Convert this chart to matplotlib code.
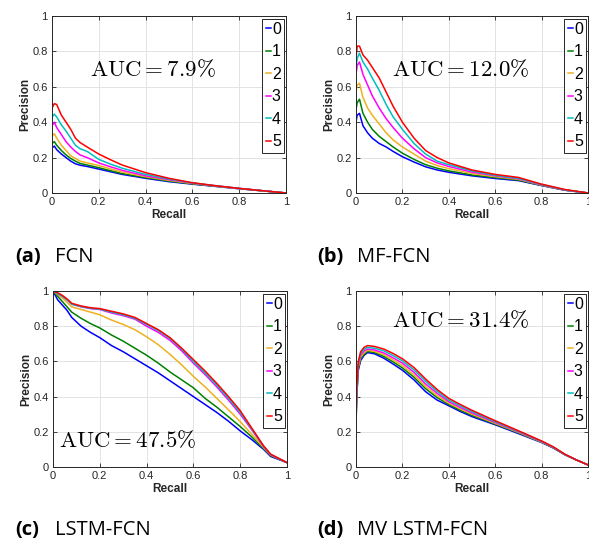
import numpy as np
import matplotlib
matplotlib.use("Agg")
import matplotlib.pyplot as plt

plt.rcParams['mathtext.fontset'] = 'cm'
plt.rcParams['font.family'] = ['Liberation Sans', 'DejaVu Sans']

# ---- data ----
labels = ['0', '1', '2', '3', '4', '5']
colors = ['#0000ff', '#008000', '#edb120', '#ff00ff', '#00bfbf', '#ff0000']

# (a) FCN
fcn_x = [0, 0.01, 0.02, 0.04, 0.06, 0.08, 0.10, 0.12, 0.15, 0.20, 0.25, 0.30, 0.40, 0.50, 0.60, 0.70, 0.80, 0.90, 1.0]
fcn_0 = [0.255, 0.265, 0.245, 0.22, 0.20, 0.18, 0.165, 0.157, 0.15, 0.135, 0.12, 0.105, 0.083, 0.064, 0.05, 0.037, 0.024, 0.012, 0]
fcn_1 = [0.28, 0.29, 0.27, 0.24, 0.215, 0.195, 0.18, 0.167, 0.158, 0.143, 0.126, 0.11, 0.087, 0.067, 0.052, 0.038, 0.025, 0.012, 0]
fcn_2 = [0.32, 0.335, 0.31, 0.27, 0.24, 0.21, 0.195, 0.18, 0.17, 0.155, 0.136, 0.118, 0.092, 0.071, 0.054, 0.039, 0.025, 0.012, 0]
fcn_3 = [0.38, 0.40, 0.37, 0.33, 0.29, 0.26, 0.235, 0.215, 0.20, 0.17, 0.148, 0.128, 0.097, 0.075, 0.056, 0.04, 0.026, 0.013, 0]
fcn_4 = [0.43, 0.445, 0.43, 0.385, 0.35, 0.31, 0.27, 0.25, 0.235, 0.19, 0.163, 0.14, 0.105, 0.079, 0.057, 0.041, 0.026, 0.013, 0]
fcn_5 = [0.48, 0.505, 0.50, 0.44, 0.40, 0.36, 0.31, 0.285, 0.26, 0.22, 0.188, 0.158, 0.115, 0.083, 0.058, 0.041, 0.026, 0.013, 0]

# (b) MF-FCN
mf_x = [0, 0.005, 0.015, 0.03, 0.05, 0.07, 0.10, 0.13, 0.16, 0.20, 0.25, 0.30, 0.35, 0.40, 0.50, 0.60, 0.70, 0.80, 0.90, 1.0]
mf_0 = [0.40, 0.44, 0.45, 0.38, 0.34, 0.31, 0.28, 0.26, 0.235, 0.205, 0.175, 0.148, 0.13, 0.117, 0.097, 0.082, 0.07, 0.042, 0.016, 0]
mf_1 = [0.47, 0.51, 0.53, 0.45, 0.40, 0.36, 0.32, 0.29, 0.26, 0.225, 0.19, 0.16, 0.14, 0.125, 0.102, 0.087, 0.073, 0.043, 0.016, 0]
mf_2 = [0.57, 0.61, 0.62, 0.54, 0.48, 0.44, 0.39, 0.34, 0.30, 0.26, 0.22, 0.18, 0.155, 0.138, 0.11, 0.092, 0.077, 0.045, 0.017, 0]
mf_3 = [0.67, 0.72, 0.74, 0.67, 0.61, 0.55, 0.48, 0.42, 0.37, 0.31, 0.25, 0.20, 0.17, 0.15, 0.118, 0.097, 0.08, 0.046, 0.017, 0]
mf_4 = [0.70, 0.76, 0.79, 0.74, 0.70, 0.65, 0.58, 0.50, 0.43, 0.36, 0.28, 0.22, 0.18, 0.16, 0.125, 0.10, 0.083, 0.048, 0.018, 0]
mf_5 = [0.76, 0.83, 0.83, 0.78, 0.75, 0.71, 0.65, 0.57, 0.49, 0.40, 0.31, 0.24, 0.20, 0.17, 0.13, 0.105, 0.088, 0.05, 0.02, 0]

# (c) LSTM-FCN
lstm_x = [0, 0.02, 0.04, 0.06, 0.08, 0.12, 0.16, 0.20, 0.25, 0.30, 0.35, 0.40, 0.45, 0.50, 0.55, 0.60, 0.65, 0.70, 0.75, 0.80, 0.85, 0.90, 0.93, 1.0]
lstm_0 = [1.0, 0.95, 0.92, 0.89, 0.85, 0.80, 0.765, 0.735, 0.69, 0.655, 0.615, 0.575, 0.535, 0.49, 0.445, 0.40, 0.355, 0.31, 0.26, 0.205, 0.155, 0.10, 0.06, 0.025]
lstm_1 = [1.0, 0.97, 0.94, 0.91, 0.88, 0.845, 0.815, 0.79, 0.75, 0.715, 0.675, 0.635, 0.59, 0.54, 0.495, 0.45, 0.39, 0.34, 0.285, 0.23, 0.17, 0.105, 0.065, 0.025]
lstm_2 = [1.0, 0.98, 0.96, 0.935, 0.91, 0.895, 0.88, 0.865, 0.835, 0.81, 0.78, 0.74, 0.695, 0.64, 0.58, 0.515, 0.455, 0.39, 0.325, 0.258, 0.185, 0.11, 0.068, 0.025]
lstm_3 = [1.0, 0.985, 0.97, 0.95, 0.925, 0.91, 0.90, 0.895, 0.875, 0.86, 0.84, 0.80, 0.765, 0.72, 0.66, 0.59, 0.525, 0.455, 0.38, 0.30, 0.21, 0.115, 0.07, 0.025]
lstm_4 = [1.0, 0.985, 0.97, 0.95, 0.925, 0.912, 0.902, 0.897, 0.88, 0.865, 0.845, 0.81, 0.775, 0.73, 0.67, 0.60, 0.535, 0.465, 0.39, 0.31, 0.215, 0.118, 0.072, 0.025]
lstm_5 = [1.0, 0.99, 0.975, 0.955, 0.93, 0.915, 0.905, 0.90, 0.885, 0.87, 0.85, 0.815, 0.78, 0.735, 0.675, 0.61, 0.545, 0.475, 0.40, 0.32, 0.22, 0.12, 0.073, 0.025]

# (d) MV LSTM-FCN
mv_x = [0, 0.003, 0.01, 0.02, 0.035, 0.05, 0.08, 0.12, 0.16, 0.20, 0.25, 0.30, 0.35, 0.40, 0.45, 0.50, 0.60, 0.70, 0.80, 0.85, 0.90, 0.95, 1.0]
mv_0 = [0.23, 0.40, 0.55, 0.605, 0.635, 0.65, 0.643, 0.618, 0.585, 0.55, 0.495, 0.428, 0.38, 0.348, 0.315, 0.286, 0.24, 0.19, 0.139, 0.108, 0.07, 0.04, 0.012]
mv_1 = [0.245, 0.41, 0.56, 0.615, 0.64, 0.657, 0.65, 0.628, 0.597, 0.563, 0.51, 0.445, 0.394, 0.355, 0.322, 0.293, 0.244, 0.194, 0.141, 0.11, 0.07, 0.04, 0.012]
mv_2 = [0.25, 0.42, 0.57, 0.625, 0.65, 0.663, 0.657, 0.638, 0.608, 0.576, 0.523, 0.458, 0.405, 0.362, 0.33, 0.30, 0.248, 0.197, 0.142, 0.111, 0.071, 0.04, 0.012]
mv_3 = [0.26, 0.43, 0.58, 0.635, 0.66, 0.67, 0.665, 0.648, 0.62, 0.59, 0.538, 0.472, 0.418, 0.371, 0.338, 0.307, 0.253, 0.20, 0.144, 0.112, 0.071, 0.04, 0.012]
mv_4 = [0.27, 0.44, 0.59, 0.645, 0.67, 0.68, 0.675, 0.66, 0.633, 0.603, 0.552, 0.487, 0.43, 0.38, 0.347, 0.315, 0.258, 0.203, 0.146, 0.113, 0.072, 0.04, 0.012]
mv_5 = [0.28, 0.45, 0.60, 0.655, 0.68, 0.69, 0.685, 0.67, 0.645, 0.615, 0.565, 0.50, 0.44, 0.39, 0.355, 0.322, 0.263, 0.206, 0.148, 0.115, 0.073, 0.04, 0.012]

auc_texts = ['7.9', '12.0', '47.5', '31.4']
captions = [('(a)', 'FCN'), ('(b)', 'MF-FCN'), ('(c)', 'LSTM-FCN'), ('(d)', 'MV LSTM-FCN')]

panels = [
    (fcn_x, [fcn_0, fcn_1, fcn_2, fcn_3, fcn_4, fcn_5]),
    (mf_x, [mf_0, mf_1, mf_2, mf_3, mf_4, mf_5]),
    (lstm_x, [lstm_0, lstm_1, lstm_2, lstm_3, lstm_4, lstm_5]),
    (mv_x, [mv_0, mv_1, mv_2, mv_3, mv_4, mv_5]),
]

# layout in pixels
W, H = 589, 540
ax_rects = [(52, 16, 234, 177), (356, 16, 232, 177), (53, 291, 234, 176), (356, 291, 232, 176)]
auc_pos = [(0.162, 0.695), (0.154, 0.695), (0.026, 0.148), (0.154, 0.834)]
cap_pos = [(15, 262), (317, 262), (15, 535), (317, 535)]

fig = plt.figure(figsize=(W / 100, H / 100), dpi=100)
dark = '#262626'

for i in range(4):
    l, t, w, h = ax_rects[i]
    ax = fig.add_axes([l / W, 1 - (t + h) / H, w / W, h / H])
    x, ys = panels[i]
    for j in range(6):
        ax.plot(x, ys[j], color=colors[j], lw=1.1, label=labels[j])
    ax.set_xlim(0, 1)
    ax.set_ylim(0, 1)
    ticks = [0, 0.2, 0.4, 0.6, 0.8, 1]
    ticklab = ['0', '0.2', '0.4', '0.6', '0.8', '1']
    ax.set_xticks(ticks)
    ax.set_xticklabels(ticklab)
    ax.set_yticks(ticks)
    ax.set_yticklabels(ticklab)
    ax.tick_params(direction='in', length=3, width=0.6, color=dark, labelcolor=dark,
                   labelsize=8, top=True, right=True, pad=3)
    ax.grid(True, color='#e3e3e3', lw=0.7)
    ax.set_axisbelow(True)
    for s in ax.spines.values():
        s.set_color(dark)
        s.set_linewidth(0.7)
    ax.set_xlabel('Recall', fontsize=8.5, fontweight='bold', color=dark, labelpad=1)
    ax.set_ylabel('Precision', fontsize=8.5, fontweight='bold', color=dark, labelpad=1)
    leg = ax.legend(loc='upper right', bbox_to_anchor=(0.992, 0.985), borderaxespad=0,
                    fontsize=11.5, handlelength=0.35, handletextpad=0.05, labelspacing=0.47,
                    borderpad=0.2, fancybox=False, framealpha=1, edgecolor=dark)
    leg.get_frame().set_linewidth(0.7)
    ax.text(auc_pos[i][0], auc_pos[i][1], r'$\mathrm{AUC}=' + auc_texts[i] + r'\%$',
            transform=ax.transAxes, fontsize=16.5, ha='left', va='center')

    cx, cy = cap_pos[i]
    fig.text(cx / W, 1 - cy / H, captions[i][0], fontsize=14.5, fontweight='bold',
             family='Open Sans', va='baseline', ha='left')
    fig.text((cx + 40) / W, 1 - cy / H, captions[i][1], fontsize=14.5,
             family='Open Sans', va='baseline', ha='left')

fig.savefig('out.png', dpi=100)
